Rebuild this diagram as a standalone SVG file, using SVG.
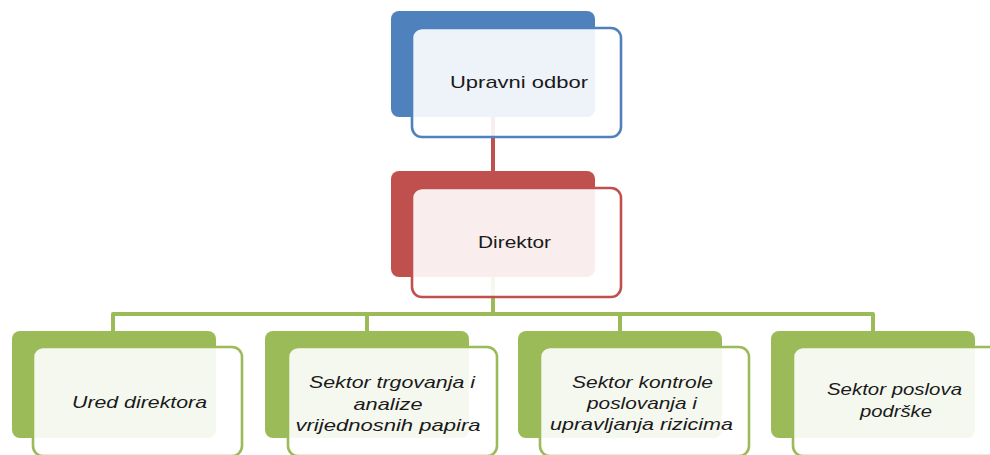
<svg xmlns="http://www.w3.org/2000/svg" width="990" height="455" viewBox="0 0 990 455">
<style>
.back{stroke:none}
.front{fill:#ffffff;fill-opacity:0.9;stroke-width:2.6}
.b .back{fill:#4F81BD}.b .front{stroke:#4F81BD}
.r .back{fill:#C0504D}.r .front{stroke:#C0504D}
.g .back{fill:#9BBB59}.g .front{stroke:#9BBB59}
text{font-family:"Liberation Sans",Arial,sans-serif;font-size:17px;fill:#1a1a1a;text-anchor:middle}
.it{font-style:italic}
.conn{fill:none;stroke-width:4;stroke-linejoin:round}
</style>
<rect width="990" height="455" fill="#ffffff"/>
<g id="connectors">
<path class="conn" stroke="#C0504D" d="M493,117 V171"/>
<path class="conn" stroke="#9BBB59" d="M493,277 V314"/>
<path class="conn" stroke="#9BBB59" d="M113,331 V314 H873 V331 M367,314 V331 M620,314 V331"/>
</g>
<g id="upravni-odbor" class="b">
<rect class="back" x="391" y="11" width="204" height="106" rx="8"/>
<rect class="front" x="412" y="28" width="209" height="109" rx="10"/>
<text x="519" y="88" textLength="138" lengthAdjust="spacingAndGlyphs">Upravni odbor</text>
</g>
<g id="direktor" class="r">
<rect class="back" x="391" y="171" width="204" height="106" rx="8"/>
<rect class="front" x="412" y="188" width="209" height="109" rx="10"/>
<text x="514.5" y="248" textLength="73" lengthAdjust="spacingAndGlyphs">Direktor</text>
</g>
<g id="ured-direktora" class="g">
<rect class="back" x="12" y="331" width="204" height="107" rx="8"/>
<rect class="front" x="33" y="347" width="209" height="109" rx="10"/>
<text class="it" x="139.5" y="408" textLength="135" lengthAdjust="spacingAndGlyphs">Ured direktora</text>
</g>
<g id="sektor-trgovanja" class="g">
<rect class="back" x="265" y="331" width="204" height="107" rx="8"/>
<rect class="front" x="288" y="347" width="209" height="109" rx="10"/>
<text class="it" x="392" y="388" textLength="166" lengthAdjust="spacingAndGlyphs">Sektor trgovanja i</text>
<text class="it" x="388" y="410" textLength="69" lengthAdjust="spacingAndGlyphs">analize</text>
<text class="it" x="388" y="431" textLength="185" lengthAdjust="spacingAndGlyphs">vrijednosnih papira</text>
</g>
<g id="sektor-kontrole" class="g">
<rect class="back" x="518" y="331" width="204" height="107" rx="8"/>
<rect class="front" x="540" y="347" width="209" height="109" rx="10"/>
<text class="it" x="642.5" y="388" textLength="141" lengthAdjust="spacingAndGlyphs">Sektor kontrole</text>
<text class="it" x="642" y="409" textLength="110" lengthAdjust="spacingAndGlyphs">poslovanja i</text>
<text class="it" x="641.5" y="430" textLength="183" lengthAdjust="spacingAndGlyphs">upravljanja rizicima</text>
</g>
<g id="sektor-podrske" class="g">
<rect class="back" x="771" y="331" width="204" height="107" rx="8"/>
<rect class="front" x="793" y="347" width="209" height="109" rx="10"/>
<text class="it" x="894.5" y="395" textLength="135" lengthAdjust="spacingAndGlyphs">Sektor poslova</text>
<text class="it" x="896" y="417" textLength="72" lengthAdjust="spacingAndGlyphs">podrške</text>
</g>
</svg>
